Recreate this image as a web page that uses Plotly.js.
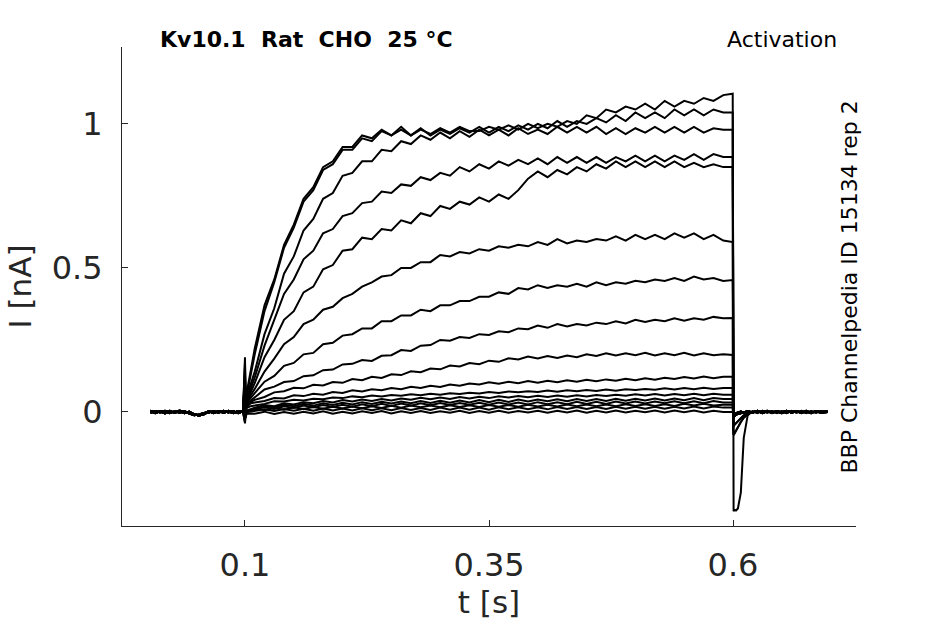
<!DOCTYPE html>
<html>
<head>
<meta charset="utf-8">
<script src="https://cdn.plot.ly/plotly-3.0.1.min.js"></script>
<style>
  html, body { margin: 0; padding: 0; background: #fff; }
  #chart { width: 945px; height: 624px; }
</style>
</head>
<body>
<div id="chart"></div>
<script>
// time bases (s)
const tPre = [0.003,0.008,0.013,0.018,0.023,0.028,0.033,0.038,0.043,0.048,0.053,0.058,0.063,0.068,0.073,0.078,0.083,0.088,0.093,0.098];
const tStep = [0.1,0.1006,0.1025,0.106,
  0.11,0.12,0.13,0.14,0.15,0.16,0.17,0.18,0.19,0.20,0.21,0.22,0.23,0.24,0.25,0.26,0.27,0.28,0.29,0.30,
  0.31,0.32,0.33,0.34,0.35,0.36,0.37,0.38,0.39,0.40,0.41,0.42,0.43,0.44,0.45,0.46,0.47,0.48,0.49,0.50,
  0.51,0.52,0.53,0.54,0.55,0.56,0.57,0.58,0.59,0.5997];
const tTail = [0.6,0.6006,0.6015,0.603,0.605,0.608,0.611,0.615,0.62,0.625,0.63,0.635,0.64,0.645,0.65,0.655,0.66,0.665,0.67,0.675,0.68,0.685,0.69,0.697];

// holding current before the step (nA)
const preA = [0.002,-0.004,0.003,-0.002,0.004,-0.003,0.002,-0.004,0.001,-0.009,-0.012,-0.008,0.001,-0.003,0.003,-0.002,0.004,-0.003,0.002,-0.001];
const preB = [-0.003,0.003,-0.002,0.004,-0.004,0.002,-0.003,0.003,-0.006,-0.011,-0.009,-0.004,-0.002,0.003,-0.003,0.004,-0.002,0.003,-0.004,0.002];
const preC = [0.004,-0.002,0.001,-0.005,0.002,-0.002,0.005,-0.001,-0.004,-0.007,-0.013,-0.006,0.003,-0.004,0.002,-0.003,0.001,-0.004,0.003,0.0];

// currents during the activating step (nA), largest first
const sweep1  = [0.19,0.06,0.08,0.14, .22,.37,.46,.58,.65,.74,.78,.85,.87,.92,.92,.96,.95,.98,.96,.99,.96,.98,.965,.985,.97,.99,.975,.975,.99,.98,.995,.98,1.0,.985,1.0,.99,1.01,1.0,1.03,1.02,1.05,1.04,1.06,1.05,1.07,1.05,1.08,1.06,1.08,1.07,1.09,1.08,1.1, 1.105];
const sweep2  = [0.17,0.05,0.07,0.13, .2,.35,.45,.57,.64,.73,.77,.84,.86,.91,.91,.95,.94,.975,.96,.98,.96,.985,.96,.98,.965,.985,.97,.99,.97,.99,.975,.995,.98,1.0,.985,1.01,.99,1.01,1.0,1.02,1.005,1.03,1.01,1.04,1.02,1.04,1.02,1.05,1.03,1.05,1.03,1.05,1.04, 1.04];
const sweep3  = [0.15,0.04,0.06,0.1, .14,.27,.36,.48,.54,.63,.67,.74,.76,.82,.83,.87,.87,.91,.905,.94,.93,.96,.945,.97,.95,.975,.955,.98,.96,.98,.96,.985,.965,.98,.965,.99,.97,.99,.97,.99,.965,.985,.965,.985,.97,.99,.97,.99,.97,.99,.97,.985,.98, 0.98];
const sweep4  = [0.13,0.04,0.05,0.08, .12,.23,.32,.41,.46,.53,.56,.62,.635,.68,.69,.725,.73,.765,.76,.79,.785,.815,.805,.83,.82,.85,.835,.86,.845,.87,.855,.875,.86,.88,.86,.885,.865,.885,.865,.885,.865,.885,.87,.89,.87,.89,.87,.89,.875,.895,.875,.895,.885, 0.885];
const sweep5  = [0.12,0.03,0.045,0.07, .1,.19,.25,.32,.35,.415,.435,.495,.51,.56,.565,.605,.6,.635,.63,.665,.655,.69,.68,.715,.705,.73,.72,.745,.73,.755,.74,.77,.81,.835,.815,.84,.825,.85,.835,.86,.845,.87,.85,.87,.85,.87,.85,.87,.85,.865,.85,.86,.85, 0.85];
const sweep6  = [0.1,0.03,0.04,0.06, .08,.14,.185,.235,.26,.305,.32,.355,.365,.395,.41,.435,.45,.47,.475,.5,.5,.52,.52,.545,.54,.555,.55,.565,.56,.575,.57,.58,.575,.59,.58,.6,.585,.595,.59,.6,.595,.61,.595,.615,.6,.615,.6,.62,.605,.62,.6,.615,.595, 0.59];
const sweep7  = [0.08,0.03,0.035,0.05, .065,.105,.125,.16,.17,.2,.205,.235,.24,.265,.27,.29,.29,.315,.315,.335,.335,.355,.35,.37,.37,.385,.385,.4,.4,.415,.41,.43,.425,.44,.43,.44,.435,.445,.435,.45,.44,.45,.445,.455,.45,.46,.455,.465,.455,.47,.46,.465,.455, 0.458];
const sweep8  = [0.06,0.025,0.03,0.04, .05,.078,.088,.104,.107,.124,.127,.145,.147,.165,.167,.18,.177,.195,.197,.215,.212,.23,.232,.25,.247,.26,.257,.27,.267,.28,.277,.29,.287,.3,.292,.305,.297,.305,.3,.31,.305,.315,.307,.32,.312,.32,.315,.325,.317,.325,.32,.33,.325, 0.326];
const sweep9  = [0.05,0.02,0.025,0.035, .042,.052,.068,.072,.084,.082,.094,.092,.104,.101,.114,.11,.122,.118,.131,.128,.141,.138,.151,.148,.161,.158,.17,.166,.178,.174,.186,.182,.192,.186,.194,.187,.196,.19,.2,.194,.204,.196,.204,.197,.205,.196,.204,.197,.205,.196,.204,.197,.2, 0.198];
const sweep10 = [0.04,0.015,0.02,0.03, .033,.038,.048,.047,.058,.055,.063,.06,.069,.066,.075,.071,.079,.075,.083,.079,.087,.083,.091,.087,.095,.091,.099,.095,.103,.098,.105,.1,.107,.101,.108,.103,.11,.105,.112,.107,.113,.108,.115,.11,.117,.112,.119,.114,.121,.116,.123,.117,.122, 0.122];
const sweep11 = [0.03,0.01,0.015,0.02, .022,.028,.037,.036,.042,.04,.046,.044,.05,.048,.054,.051,.057,.054,.059,.056,.061,.058,.063,.06,.065,.062,.067,.064,.069,.066,.071,.068,.072,.069,.074,.07,.075,.072,.076,.073,.078,.074,.079,.076,.08,.077,.082,.078,.083,.079,.084,.08,.083, 0.083];
const sweep12 = [0.02,-0.02,0.005,0.01, .015,.024,.02,.03,.026,.034,.03,.038,.033,.041,.036,.043,.038,.045,.04,.047,.042,.049,.044,.05,.045,.052,.047,.053,.048,.054,.05,.055,.051,.056,.052,.057,.053,.058,.054,.059,.055,.06,.056,.061,.057,.062,.057,.062,.058,.063,.058,.063,.06, 0.06];
const sweep13 = [-0.03,0.0,0.005,0.008, .01,.02,.016,.025,.02,.028,.022,.03,.024,.032,.026,.034,.028,.035,.029,.036,.03,.038,.031,.039,.032,.04,.033,.041,.034,.042,.035,.043,.036,.043,.037,.044,.037,.045,.038,.045,.038,.046,.039,.046,.04,.047,.04,.047,.041,.048,.041,.048,.045, 0.045];
const sweep14 = [0.12,0.0,0.004,0.006, .008,.016,.01,.02,.014,.022,.016,.024,.017,.025,.018,.027,.02,.028,.021,.029,.022,.03,.023,.031,.024,.031,.025,.032,.025,.033,.026,.033,.026,.034,.027,.034,.027,.035,.028,.035,.028,.036,.029,.036,.029,.036,.03,.037,.03,.037,.03,.038,.033, 0.033];
const sweep15 = [-0.035,0.0,0.003,0.005, .012,.006,.014,.008,.016,.01,.017,.011,.018,.012,.019,.013,.02,.014,.021,.015,.022,.016,.022,.016,.023,.017,.023,.017,.024,.018,.024,.018,.025,.019,.025,.019,.026,.02,.026,.02,.026,.02,.027,.021,.027,.021,.027,.021,.028,.022,.028,.022,.025, 0.025];
const sweep16 = [0.08,-0.01,0.0,0.002, .002,.009,.003,.01,.004,.011,.004,.012,.005,.012,.005,.013,.006,.013,.006,.014,.007,.014,.007,.015,.008,.015,.008,.015,.008,.016,.009,.016,.009,.016,.009,.017,.01,.017,.01,.017,.01,.018,.011,.018,.011,.018,.011,.018,.012,.019,.012,.019,.015, 0.015];
const sweep17 = [-0.04,-0.01,-0.005,-0.006, -.006,.001,-.007,.0,-.006,.001,-.005,.002,-.006,.001,-.005,.002,-.004,.003,-.005,.002,-.004,.003,-.004,.002,-.003,.004,-.004,.003,-.003,.004,-.003,.003,-.002,.004,-.003,.004,-.002,.005,-.003,.004,-.002,.005,-.002,.004,-.001,.005,-.002,.005,-.001,.005,-.002,.004,.0, 0.0];

// tail currents after stepping back (nA)
const tailDeep   = [-0.3,-0.345,-0.34,-0.342,-0.335,-0.28,-0.09,-0.012,0.003,-0.004,0.004,-0.003,0.002,-0.004,0.003,-0.002,0.004,-0.003,0.001,-0.004,0.003,-0.002,0.002,-0.001];
const tailMidA   = [-0.06,-0.08,-0.075,-0.065,-0.05,-0.035,-0.02,-0.008,0.002,-0.003,0.004,-0.002,0.003,-0.003,0.002,-0.004,0.003,-0.002,0.004,-0.003,0.002,-0.003,0.003,0.0];
const tailMidB   = [-0.03,-0.05,-0.045,-0.04,-0.03,-0.02,-0.012,-0.005,-0.002,0.004,-0.003,0.003,-0.004,0.002,-0.003,0.004,-0.002,0.003,-0.004,0.002,-0.003,0.003,-0.002,0.001];
const tailSmallA = [-0.01,-0.02,-0.015,-0.01,-0.007,-0.004,-0.002,0.002,-0.003,0.003,-0.002,0.004,-0.003,0.002,-0.004,0.003,-0.002,0.003,-0.003,0.002,-0.004,0.003,-0.001,0.002];
const tailSmallB = [0.0,-0.008,-0.006,-0.004,-0.002,0.001,-0.003,0.003,-0.002,0.004,-0.004,0.002,-0.003,0.003,-0.002,0.004,-0.003,0.002,-0.002,0.004,-0.003,0.002,-0.003,0.0];

const sweeps = [sweep1,sweep2,sweep3,sweep4,sweep5,sweep6,sweep7,sweep8,sweep9,
  sweep10,sweep11,sweep12,sweep13,sweep14,sweep15,sweep16,sweep17];
const pres = [preA,preB,preC];
const tails = [tailDeep,tailMidA,tailMidB,tailMidA,tailMidB,tailSmallA,tailSmallB];

const INK = "#262626";
const FONT = "DejaVu Sans, Liberation Sans, sans-serif";

const tAll = tPre.concat(tStep, tTail);
const traces = sweeps.map((s, i) => {
  const tail = tails[i] || (i % 2 ? tailSmallA : tailSmallB);
  return {
    x: tAll,
    y: pres[i % 3].concat(s, tail),
    type: "scatter",
    mode: "lines",
    line: {color: "#000", width: 2},
    hoverinfo: "skip",
    showlegend: false
  };
});

const axisBase = {
  showline: true,
  linecolor: INK,
  linewidth: 1,
  mirror: false,
  showgrid: false,
  zeroline: false,
  ticks: "inside",
  ticklen: 6,
  tickwidth: 1,
  tickcolor: INK,
  tickfont: {family: FONT, size: 32, color: INK}
};

const layout = {
  width: 945,
  height: 624,
  margin: {l: 122, r: 89, t: 47, b: 98},
  paper_bgcolor: "#fff",
  plot_bgcolor: "#fff",
  showlegend: false,
  xaxis: {
    ...axisBase,
    range: [-0.026, 0.726],
    tickvals: [0.1, 0.35, 0.6],
    ticktext: ["0.1", "0.35", "0.6"],
    ticklabelstandoff: 11,
    title: {text: "t [s]", font: {family: FONT, size: 31, color: INK}, standoff: 7}
  },
  yaxis: {
    ...axisBase,
    range: [-0.396, 1.267],
    tickvals: [0, 0.5, 1],
    ticktext: ["0", "0.5", "1"],
    ticklabelstandoff: 12,
    title: {text: "I [nA]", font: {family: FONT, size: 31, color: INK}, standoff: 10}
  },
  annotations: [
    {
      text: "<b>Kv10.1\u00a0\u00a0Rat\u00a0\u00a0CHO\u00a0\u00a025\u00a0°C</b>",
      xref: "paper", yref: "paper", x: 0.2507, y: 1.0167,
      xanchor: "center", yanchor: "middle", showarrow: false,
      font: {family: FONT, size: 22, color: "#000"}
    },
    {
      text: "Activation",
      xref: "paper", yref: "paper", x: 0.899, y: 1.0167,
      xanchor: "center", yanchor: "middle", showarrow: false,
      font: {family: FONT, size: 22, color: "#000"}
    },
    {
      text: "BBP Channelpedia ID 15134 rep 2",
      xref: "paper", yref: "paper", x: 0.9905, y: 0.498,
      xanchor: "center", yanchor: "middle", showarrow: false, textangle: -90,
      font: {family: FONT, size: 22, color: "#000"}
    }
  ]
};

Plotly.newPlot("chart", traces, layout, {staticPlot: true, displayModeBar: false});
</script>
</body>
</html>
